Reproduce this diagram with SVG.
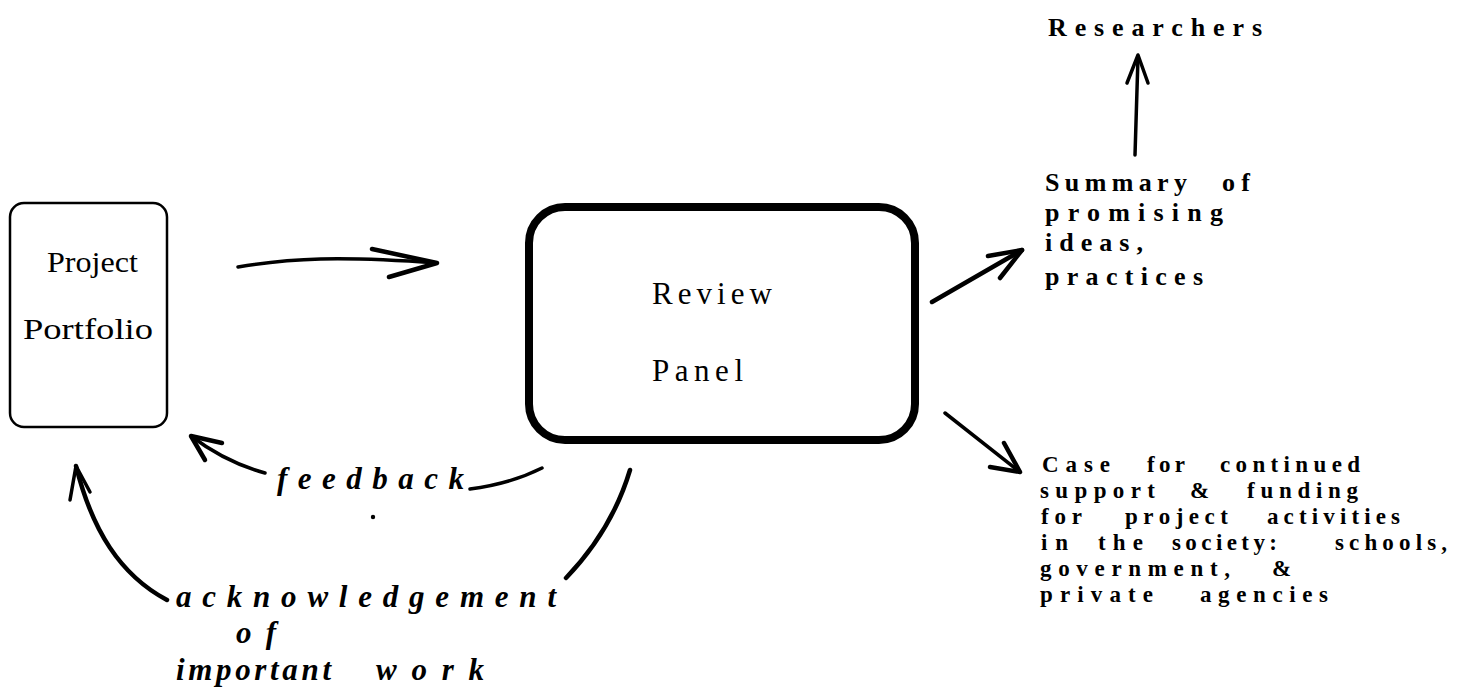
<svg xmlns="http://www.w3.org/2000/svg" width="1462" height="692" viewBox="0 0 1462 692">
<style>
.bg{fill:#fff}
.box1{fill:none;stroke:#000;stroke-width:2.5}
.box2{fill:none;stroke:#000;stroke-width:8}
.lbl{font-family:"Liberation Serif","Times New Roman",serif;fill:#000}
.node{font-size:29px}
.rv{font-size:31px}
.rt{font-size:26px;font-weight:bold}
.cs{font-size:23px;font-weight:bold}
.it{font-size:31px;font-style:italic;font-weight:bold}
.c{fill:none;stroke:#000;stroke-width:3.5;stroke-linecap:round;stroke-linejoin:round}
.ct{stroke-width:4.5}
</style>
<rect class="bg" x="0" y="0" width="1462" height="692"/>

<g id="project-portfolio">
<rect class="box1" x="10" y="203" width="157" height="224" rx="14"/>
<text class="lbl node" x="47" y="272" textLength="91" lengthAdjust="spacingAndGlyphs">Project</text>
<text class="lbl node" x="23" y="339" textLength="130" lengthAdjust="spacingAndGlyphs">Portfolio</text>
</g>

<g id="review-panel">
<rect class="box2" x="529" y="207" width="386" height="233" rx="36"/>
<text class="lbl rv" x="652" y="304" textLength="120" lengthAdjust="spacing">Review</text>
<text class="lbl rv" x="652" y="381" textLength="91" lengthAdjust="spacing">Panel</text>
</g>

<g id="researchers">
<text class="lbl rt" x="1048" y="36" textLength="214" lengthAdjust="spacing">Researchers</text>
</g>

<g id="summary">
<text class="lbl rt"><tspan x="1045" y="191" textLength="142" lengthAdjust="spacing">Summary</tspan><tspan x="1222" y="191" textLength="28" lengthAdjust="spacing">of</tspan></text>
<text class="lbl rt" x="1045" y="221" textLength="178" lengthAdjust="spacing">promising</text>
<text class="lbl rt" x="1045" y="251" textLength="98" lengthAdjust="spacing">ideas,</text>
<text class="lbl rt" x="1045" y="285" textLength="158" lengthAdjust="spacing">practices</text>
</g>

<g id="case">
<text class="lbl cs"><tspan x="1042" y="472" textLength="68" lengthAdjust="spacing">Case</tspan><tspan x="1147" y="472" textLength="38" lengthAdjust="spacing">for</tspan><tspan x="1220" y="472" textLength="140" lengthAdjust="spacing">continued</tspan></text>
<text class="lbl cs"><tspan x="1040" y="498" textLength="115" lengthAdjust="spacing">support</tspan><tspan x="1190" y="498" textLength="22" lengthAdjust="spacing">&amp;</tspan><tspan x="1247" y="498" textLength="111" lengthAdjust="spacing">funding</tspan></text>
<text class="lbl cs"><tspan x="1041" y="524" textLength="41" lengthAdjust="spacing">for</tspan><tspan x="1125" y="524" textLength="103" lengthAdjust="spacing">project</tspan><tspan x="1267" y="524" textLength="133" lengthAdjust="spacing">activities</tspan></text>
<text class="lbl cs"><tspan x="1041" y="550" textLength="27" lengthAdjust="spacing">in</tspan><tspan x="1098" y="550" textLength="45" lengthAdjust="spacing">the</tspan><tspan x="1172" y="550" textLength="105" lengthAdjust="spacing">society:</tspan><tspan x="1335" y="550" textLength="112" lengthAdjust="spacing">schools,</tspan></text>
<text class="lbl cs"><tspan x="1040" y="576" textLength="190" lengthAdjust="spacing">government,</tspan><tspan x="1272" y="576" textLength="23" lengthAdjust="spacing">&amp;</tspan></text>
<text class="lbl cs"><tspan x="1040" y="602" textLength="113" lengthAdjust="spacing">private</tspan><tspan x="1200" y="602" textLength="128" lengthAdjust="spacing">agencies</tspan></text>
</g>

<g id="feedback-label">
<text class="lbl it" x="277" y="489" textLength="187" lengthAdjust="spacing">feedback</text>
<circle cx="373" cy="517" r="2.2" fill="#000"/>
</g>

<g id="acknowledgement-label">
<text class="lbl it" x="176" y="607" textLength="380" lengthAdjust="spacing">acknowledgement</text>
<text class="lbl it" x="236" y="643" textLength="40" lengthAdjust="spacing">of</text>
<text class="lbl it"><tspan x="176" y="680" textLength="155" lengthAdjust="spacing">important</tspan><tspan x="376" y="680" textLength="108" lengthAdjust="spacing">work</tspan></text>
</g>

<g id="connectors">
<!-- Project -> Review -->
<path class="c" d="M238,267 C290,258 340,256 437,263"/>
<path class="c ct" d="M372,249 L437,263 L389,277"/>
<!-- Review -> Summary -->
<path class="c ct" d="M932,302 L1022,250"/>
<path class="c ct" d="M988,256 L1022,250 L1000,278"/>
<!-- Review -> Case -->
<path class="c" d="M945,413 L1020,472"/>
<path class="c ct" d="M1004,443 L1020,472 L990,467"/>
<!-- Summary -> Researchers -->
<path class="c" d="M1135,155 L1138,57"/>
<path class="c" d="M1127,83 L1138,55 L1148,83"/>
<!-- feedback -->
<path class="c" d="M542,468 Q510,484 470,489"/>
<path class="c" d="M265,473 Q225,462 191,436"/>
<path class="c ct" d="M222,443 L191,436 L205,460"/>
<!-- acknowledgement -->
<path class="c ct" d="M630,470 Q612,530 566,578"/>
<path class="c ct" d="M167,600 C120,575 92,530 76,466"/>
<path class="c" d="M70,500 L76,466 L90,492"/>
</g>
</svg>
